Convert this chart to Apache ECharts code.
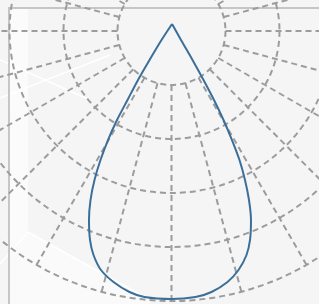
<!DOCTYPE html>
<html>
<head>
<meta charset="utf-8">
<script src="https://cdn.jsdelivr.net/npm/echarts@6/dist/echarts.min.js"></script>
<style>html,body{margin:0;padding:0;background:#f5f5f5;}#c{width:319px;height:304px;}</style>
</head>
<body>
<div id="c"></div>
<script>
// Teardrop outline, in units of the polar grid's ring spacing (origin = polar centre)
const dropX = [0.01, 0.176, 0.389, 0.593, 0.787, 0.963, 1.120, 1.259, 1.361, 1.435, 1.472, 1.454, 1.389, 1.241, 1.037, 0.741, 0.444, 0.0,
  -0.5, -0.778, -1.074, -1.306, -1.444, -1.509, -1.528, -1.5, -1.426, -1.315, -1.176, -1.009, -0.815, -0.620, -0.407, -0.185, 0.01];
const dropY = [0.13, -0.167, -0.537, -0.907, -1.278, -1.648, -2.019, -2.389, -2.759, -3.130, -3.500, -3.870, -4.148, -4.426, -4.648, -4.833, -4.926, -4.963,
  -4.926, -4.833, -4.648, -4.426, -4.148, -3.870, -3.500, -3.130, -2.759, -2.389, -2.019, -1.648, -1.278, -0.907, -0.537, -0.167, 0.13];
// Ring values and angular steps of the polar grid
const ringValues = [0, 1, 2, 3, 4];
const angleStep = 15;

const W = 319, H = 304;
const chart = echarts.init(document.getElementById('c'), null, {renderer: 'canvas'});
const ring = 54, cx = 171.5, cy = 31;
const dash = {color: '#9c9c9c', width: 2, type: [6, 4]};
chart.setOption({
  backgroundColor: '#f5f5f5',
  animation: false,
  graphic: [
    {type: 'polygon', silent: true, z: -10, shape: {points: [[9, 8], [28, 8], [28, 232], [9, 250]]}, style: {fill: '#fbfbfb'}},
    {type: 'polygon', silent: true, z: -10, shape: {points: [[9, 250], [28, 232], [150, 300], [150, 304], [9, 304]]}, style: {fill: '#fafafa'}},
    {type: 'line', silent: true, z: -9, shape: {x1: 0, y1: 98, x2: 110, y2: 55}, style: {stroke: '#ffffff', lineWidth: 1.5}},
    {type: 'line', silent: true, z: -9, shape: {x1: 0, y1: 60, x2: 90, y2: 100}, style: {stroke: '#ffffff', lineWidth: 1.5}},
    {type: 'line', silent: true, z: -9, shape: {x1: 28, y1: 232, x2: 0, y2: 264}, style: {stroke: '#ffffff', lineWidth: 1.5}},
    {type: 'line', silent: true, z: -9, shape: {x1: 28, y1: 232, x2: 150, y2: 300}, style: {stroke: '#ffffff', lineWidth: 1.5}}
  ],
  polar: {center: [cx, cy], radius: [ring, ring * 5]},
  angleAxis: {
    type: 'value', min: 0, max: 360, interval: angleStep, startAngle: 90,
    axisLine: {show: false}, axisTick: {show: false}, axisLabel: {show: false},
    splitLine: {show: true, lineStyle: dash}
  },
  radiusAxis: {
    type: 'value', min: ringValues[0], max: ringValues[ringValues.length - 1], interval: 1,
    axisLine: {show: false}, axisTick: {show: false}, axisLabel: {show: false},
    splitLine: {show: true, lineStyle: dash}
  },
  grid: [
    {left: 9, top: 8, width: 400, height: 400, show: true, borderColor: '#c6c6c6', borderWidth: 2, backgroundColor: 'transparent', outerBoundsMode: 'none'},
    {left: 0, top: 0, width: W, height: H, show: false, outerBoundsMode: 'none'}
  ],
  xAxis: [
    {gridIndex: 0, type: 'value', show: false, min: 0, max: 1},
    {gridIndex: 1, type: 'value', show: false, min: -cx / ring, max: (W - cx) / ring}
  ],
  yAxis: [
    {gridIndex: 0, type: 'value', show: false, min: 0, max: 1},
    {gridIndex: 1, type: 'value', show: false, min: (cy - H) / ring, max: cy / ring}
  ],
  series: [{
    type: 'line', xAxisIndex: 1, yAxisIndex: 1,
    data: dropX.map((x, i) => [x, dropY[i]]),
    smooth: 0.3, symbol: 'none', clip: false, z: 5,
    lineStyle: {color: '#3b6f99', width: 2}
  }]
});
</script>
</body>
</html>
